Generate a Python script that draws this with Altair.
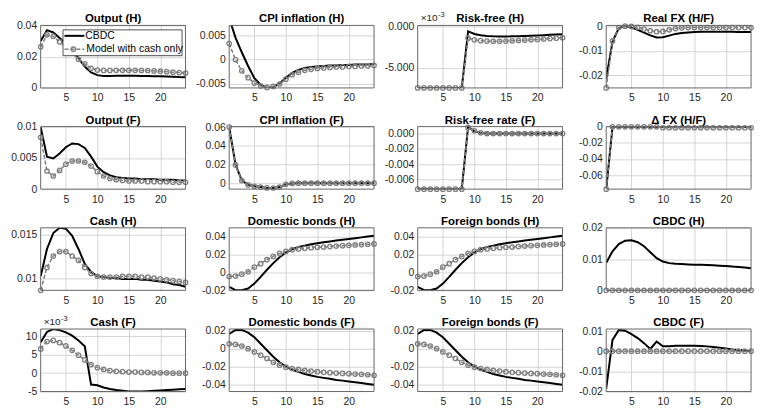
import altair as alt
import pandas as pd

FONT = "Liberation Sans"
W, H = 146, 63

steps = list(range(1, 25))
x_ticks = [5, 10, 15, 20]

panel_titles = ["Output (H)", "CPI inflation (H)", "Risk-free (H)", "Real FX (H/F)",
                "Output (F)", "CPI inflation (F)", "Risk-free rate (F)", "\u0394 FX (H/F)",
                "Cash (H)", "Domestic bonds (H)", "Foreign bonds (H)", "CBDC (H)",
                "Cash (F)", "Domestic bonds (F)", "Foreign bonds (F)", "CBDC (F)"]
legend_labels = ["CBDC", "Model with cash only"]

out_h_cbdc = [0.030, 0.037, 0.0355, 0.032, 0.028, 0.0245, 0.019, 0.0137, 0.0099, 0.0082, 0.0077, 0.0077,
              0.0078, 0.0078, 0.0078, 0.0078, 0.0077, 0.0076, 0.0075, 0.0074, 0.0073, 0.0072, 0.0070, 0.0069]
out_h_cash = [0.0263, 0.034, 0.033, 0.0295, 0.026, 0.0225, 0.0183, 0.0154, 0.0126, 0.0114, 0.0112, 0.0112,
              0.0113, 0.0113, 0.0113, 0.0113, 0.0112, 0.0111, 0.0109, 0.0107, 0.0104, 0.0101, 0.0098, 0.0095]

cpi_h_cbdc = [0.0085, 0.0045, 0.0015, -0.0013, -0.0038, -0.0052, -0.0058, -0.0056, -0.0049, -0.0037, -0.0027, -0.0021,
              -0.0017, -0.0015, -0.0014, -0.0013, -0.0012, -0.0012, -0.0011, -0.0011, -0.0010, -0.0010, -0.0010, -0.0009]
cpi_h_cash = [0.0033, 0.0000, -0.0023, -0.0037, -0.0048, -0.0054, -0.0057, -0.0055, -0.0050, -0.0040, -0.0031, -0.0026,
              -0.0022, -0.0020, -0.0018, -0.0017, -0.0016, -0.0015, -0.0015, -0.0014, -0.0014, -0.0013, -0.0013, -0.0012]

rf_h_cbdc = [-0.00742, -0.00742, -0.00742, -0.00742, -0.00742, -0.00742, -0.00742, -0.00742,
             -0.00063, -0.00095, -0.00110, -0.00118, -0.00122, -0.00124, -0.00124, -0.00123,
             -0.00121, -0.00118, -0.00115, -0.00112, -0.00109, -0.00105, -0.00101, -0.00097]
rf_h_cash = [-0.00742, -0.00742, -0.00742, -0.00742, -0.00742, -0.00742, -0.00742, -0.00742,
             -0.00145, -0.00165, -0.00175, -0.00180, -0.00182, -0.00182, -0.00180, -0.00177,
             -0.00173, -0.00169, -0.00165, -0.00160, -0.00155, -0.00150, -0.00145, -0.00140]

fx_h_cbdc = [-0.0215, -0.0062, -0.0006, 0.0002, -0.0004, -0.0013, -0.0025, -0.0036, -0.0045, -0.0044, -0.0037, -0.0030,
             -0.0026, -0.0024, -0.0022, -0.0021, -0.0021, -0.0021, -0.0021, -0.0021, -0.0021, -0.0022, -0.0022, -0.0022]
fx_h_cash = [-0.0253, -0.0059, -0.0004, 0.0002, 0.0001, -0.0003, -0.0010, -0.0017, -0.0021, -0.0020, -0.0013, -0.0008,
             -0.0005, -0.0004, -0.0004, -0.0004, -0.0004, -0.0004, -0.0004, -0.0004, -0.0004, -0.0004, -0.0004, -0.0004]

out_f_cbdc = [0.0099, 0.0052, 0.0049, 0.0057, 0.0067, 0.0073, 0.0072, 0.0066, 0.0052, 0.0036, 0.0027, 0.0022,
              0.0019, 0.0018, 0.0017, 0.0017, 0.0016, 0.0016, 0.0016, 0.0015, 0.0015, 0.0015, 0.0014, 0.0014]
out_f_cash = [0.0083, 0.0029, 0.0021, 0.0030, 0.0040, 0.0045, 0.0045, 0.0043, 0.0037, 0.0028, 0.0021, 0.0017,
              0.0015, 0.0014, 0.0013, 0.0013, 0.0013, 0.0012, 0.0012, 0.0012, 0.0012, 0.0011, 0.0011, 0.0011]

cpi_f_cbdc = [0.0600, 0.0200, 0.0030, -0.0017, -0.0032, -0.0040, -0.0050, -0.0050, -0.0040, -0.0012, -0.0003, -0.0001,
              0.0000, 0.0000, 0.0000, 0.0000, 0.0000, 0.0000, 0.0000, 0.0000, 0.0000, 0.0000, 0.0000, 0.0000]
cpi_f_cash = [0.0600, 0.0195, 0.0028, -0.0018, -0.0033, -0.0041, -0.0050, -0.0051, -0.0041, -0.0011, -0.0002, 0.0000,
              0.0000, 0.0000, 0.0000, 0.0000, 0.0000, 0.0000, 0.0000, 0.0000, 0.0000, 0.0000, 0.0000, 0.0000]

rf_f_cbdc = [-0.00724, -0.00724, -0.00724, -0.00724, -0.00724, -0.00724, -0.00724, -0.00724,
             0.0009, 0.0003, 0.0001, 0.0000, 0.0000, 0.0000, 0.0000, 0.0000,
             0.0000, 0.0000, 0.0000, 0.0000, 0.0000, 0.0000, 0.0000, 0.0000]
rf_f_cash = [-0.00724, -0.00724, -0.00724, -0.00724, -0.00724, -0.00724, -0.00724, -0.00724,
             0.0008, 0.00035, 0.0001, 0.0000, 0.0000, 0.0000, 0.0000, 0.0000,
             0.0000, 0.0000, 0.0000, 0.0000, 0.0000, 0.0000, 0.0000, 0.0000]

dfx_cbdc = [-0.0775, 0.0, 0.0, 0.0, 0.0, 0.0, 0.0, 0.0, 0.0, 0.0, 0.0, 0.0,
            0.0, 0.0, 0.0, 0.0, 0.0, 0.0, 0.0, 0.0, 0.0, 0.0, 0.0, 0.0]
dfx_cash = [-0.0775, 0.0, 0.0, 0.0, 0.0, 0.0, 0.0, 0.0, 0.0, -0.0012, -0.0012, -0.0012,
            -0.0012, -0.0012, -0.0012, -0.0012, -0.0012, -0.0012, -0.0012, -0.0012, -0.0012, -0.0012, -0.0012, -0.0012]

cash_h_cbdc = [0.0103, 0.0134, 0.0152, 0.0158, 0.0157, 0.0149, 0.0134, 0.0117, 0.0108, 0.0103, 0.0102, 0.0101,
               0.0101, 0.0100, 0.0100, 0.0100, 0.0099, 0.0099, 0.0098, 0.0097, 0.0096, 0.0094, 0.0093, 0.0091]
cash_h_cash = [0.0087, 0.0113, 0.0126, 0.0131, 0.0131, 0.0126, 0.0121, 0.0113, 0.0106, 0.0103, 0.0102, 0.0102,
               0.0102, 0.0103, 0.0103, 0.0103, 0.0102, 0.0102, 0.0101, 0.0100, 0.0099, 0.0098, 0.0097, 0.0096]

dom_h_cbdc = [-0.0160, -0.0198, -0.0198, -0.0180, -0.0125, -0.0050, 0.0030, 0.0105, 0.0170, 0.0225, 0.0260, 0.0285,
              0.0300, 0.0315, 0.0328, 0.0338, 0.0348, 0.0357, 0.0366, 0.0375, 0.0384, 0.0393, 0.0402, 0.0412]
dom_h_cash = [-0.0045, -0.0040, -0.0019, 0.0008, 0.0060, 0.0098, 0.0143, 0.0180, 0.0214, 0.0236, 0.0255, 0.0263,
              0.0270, 0.0278, 0.0282, 0.0285, 0.0290, 0.0296, 0.0300, 0.0304, 0.0308, 0.0312, 0.0316, 0.0320]

for_h_cbdc = [-0.0160, -0.0198, -0.0198, -0.0180, -0.0125, -0.0050, 0.0030, 0.0105, 0.0170, 0.0225, 0.0260, 0.0285,
              0.0300, 0.0315, 0.0328, 0.0338, 0.0348, 0.0357, 0.0366, 0.0375, 0.0384, 0.0393, 0.0402, 0.0412]
for_h_cash = [-0.0045, -0.0040, -0.0019, 0.0008, 0.0060, 0.0098, 0.0143, 0.0180, 0.0214, 0.0236, 0.0255, 0.0263,
              0.0270, 0.0278, 0.0282, 0.0285, 0.0290, 0.0296, 0.0300, 0.0304, 0.0308, 0.0312, 0.0316, 0.0320]

cbdc_h_cbdc = [0.0088, 0.0125, 0.0148, 0.0159, 0.0160, 0.0154, 0.0141, 0.0122, 0.0103, 0.0092, 0.0087, 0.0085,
               0.0084, 0.0083, 0.0082, 0.0082, 0.0081, 0.0080, 0.0079, 0.0078, 0.0076, 0.0075, 0.0073, 0.0071]
cbdc_h_cash = [0.0, 0.0, 0.0, 0.0, 0.0, 0.0, 0.0, 0.0, 0.0, 0.0, 0.0, 0.0,
               0.0, 0.0, 0.0, 0.0, 0.0, 0.0, 0.0, 0.0, 0.0, 0.0, 0.0, 0.0]

cash_f_cbdc = [0.0084, 0.0112, 0.0120, 0.0117, 0.0111, 0.0102, 0.0089, 0.0073, -0.0031, -0.0033, -0.0039, -0.0043,
               -0.0046, -0.0048, -0.0050, -0.0050, -0.0050, -0.0049, -0.0048, -0.0047, -0.0046, -0.0045, -0.0044, -0.0043]
cash_f_cash = [0.0066, 0.0086, 0.0089, 0.0083, 0.0074, 0.0062, 0.0049, 0.0036, 0.0023, 0.0015, 0.0010, 0.0007,
               0.0005, 0.0004, 0.0003, 0.0003, 0.0002, 0.0002, 0.0001, 0.0001, 0.0001, 0.0000, 0.0000, 0.0000]

dom_f_cbdc = [0.0164, 0.0210, 0.0210, 0.0180, 0.0127, 0.0055, -0.0018, -0.0090, -0.0153, -0.0200, -0.0236, -0.0260,
              -0.0284, -0.0300, -0.0316, -0.0327, -0.0338, -0.0350, -0.0358, -0.0367, -0.0376, -0.0385, -0.0395, -0.0405]
dom_f_cash = [0.0055, 0.0047, 0.0030, 0.0000, -0.0036, -0.0073, -0.0110, -0.0153, -0.0185, -0.0207, -0.0222, -0.0233,
              -0.0244, -0.0250, -0.0258, -0.0265, -0.0269, -0.0273, -0.0277, -0.0280, -0.0284, -0.0287, -0.0292, -0.0298]

for_f_cbdc = [0.0164, 0.0210, 0.0210, 0.0180, 0.0127, 0.0055, -0.0018, -0.0090, -0.0153, -0.0200, -0.0236, -0.0260,
              -0.0284, -0.0300, -0.0316, -0.0327, -0.0338, -0.0350, -0.0358, -0.0367, -0.0376, -0.0385, -0.0395, -0.0405]
for_f_cash = [0.0055, 0.0047, 0.0030, 0.0000, -0.0036, -0.0073, -0.0110, -0.0153, -0.0185, -0.0207, -0.0222, -0.0233,
              -0.0244, -0.0250, -0.0258, -0.0265, -0.0269, -0.0273, -0.0277, -0.0280, -0.0284, -0.0287, -0.0292, -0.0298]

cbdc_f_cbdc = [-0.0185, 0.0056, 0.0105, 0.0102, 0.0085, 0.0065, 0.0040, 0.0011, 0.0048, 0.0024, 0.0025, 0.0027,
               0.0027, 0.0027, 0.0027, 0.0026, 0.0024, 0.0021, 0.0017, 0.0013, 0.0009, 0.0006, 0.0003, 0.0000]
cbdc_f_cash = [0.0, 0.0, 0.0, 0.0, 0.0, 0.0, 0.0, 0.0, 0.0, 0.0, 0.0, 0.0,
               0.0, 0.0, 0.0, 0.0, 0.0, 0.0, 0.0, 0.0, 0.0, 0.0, 0.0, 0.0]

cbdc_series = [out_h_cbdc, cpi_h_cbdc, rf_h_cbdc, fx_h_cbdc, out_f_cbdc, cpi_f_cbdc, rf_f_cbdc, dfx_cbdc,
               cash_h_cbdc, dom_h_cbdc, for_h_cbdc, cbdc_h_cbdc, cash_f_cbdc, dom_f_cbdc, for_f_cbdc, cbdc_f_cbdc]
cash_series = [out_h_cash, cpi_h_cash, rf_h_cash, fx_h_cash, out_f_cash, cpi_f_cash, rf_f_cash, dfx_cash,
               cash_h_cash, dom_h_cash, for_h_cash, cbdc_h_cash, cash_f_cash, dom_f_cash, for_f_cash, cbdc_f_cash]

y_domains = [[0, 0.04], [-0.0058, 0.007], [-0.00742, 0.00008], [-0.0253, 0.0005],
             [0, 0.01], [-0.0063, 0.0605], [-0.00724, 0.0009], [-0.0775, 0.0002],
             [0.0087, 0.0158], [-0.02, 0.05], [-0.02, 0.05], [0, 0.02],
             [-0.005, 0.012], [-0.048, 0.022], [-0.048, 0.022], [-0.02, 0.011]]
y_ticks = [[0, 0.02, 0.04], [-0.005, 0, 0.005], [-0.005, 0], [-0.02, -0.01, 0],
           [0, 0.005, 0.01], [0, 0.02, 0.04, 0.06], [-0.006, -0.004, -0.002, 0], [-0.06, -0.04, -0.02, 0],
           [0.01, 0.015], [-0.02, 0, 0.02, 0.04], [-0.02, 0, 0.02, 0.04], [0, 0.01, 0.02],
           [-0.005, 0, 0.005, 0.01], [-0.04, -0.02, 0, 0.02], [-0.04, -0.02, 0, 0.02], [-0.02, -0.01, 0, 0.01]]
label_formats = [(1, "~g"), (1, "~g"), (1000, ".3f"), (1, "~g"),
                 (1, "~g"), (1, "~g"), (1, ".3f"), (1, "~g"),
                 (1, "~g"), (1, "~g"), (1, "~g"), (1, "~g"),
                 (1000, "~g"), (1, "~g"), (1, "~g"), (1, "~g")]
exponent_panels = [2, 12]

GRAY = "#808080"
one = pd.DataFrame({"k": [0]})


def make_panel(i):
    df = pd.DataFrame({"t": steps, "cbdc": cbdc_series[i], "cash": cash_series[i]})
    mult, fmt = label_formats[i]
    lbl = "replace(format(datum.value*%s, '%s'), '\u2212', '-')" % (mult, fmt)
    xenc = alt.X("t:Q", scale=alt.Scale(domain=[1, 24], nice=False, zero=False),
                 axis=alt.Axis(values=x_ticks, title=None, labelPadding=5, format="d"))

    def yenc(field):
        return alt.Y(field + ":Q", scale=alt.Scale(domain=y_domains[i], nice=False, zero=False),
                     axis=alt.Axis(values=y_ticks[i], title=None, labelExpr=lbl, labelPadding=4))

    base = alt.Chart(df)
    black = base.mark_line(color="#000000", strokeWidth=2, clip=True).encode(x=xenc, y=yenc("cbdc"))
    gline = base.mark_line(color=GRAY, strokeWidth=1.5, strokeDash=[4, 2], clip=True).encode(
        x=xenc, y=yenc("cash"))
    gpts = base.mark_point(color=GRAY, filled=False, size=20, strokeWidth=1.3, opacity=1).encode(
        x=xenc, y=yenc("cash"))
    frame = alt.Chart(one).mark_rect(fillOpacity=0, stroke="#666666", strokeWidth=1).encode(
        x=alt.value(0), x2=alt.value(W), y=alt.value(0), y2=alt.value(H))
    title = alt.Chart(one).mark_text(text=panel_titles[i], font=FONT, fontSize=11.5, fontWeight="bold",
                                     color="#000000", align="center", baseline="alphabetic").encode(
        x=alt.value(W / 2), y=alt.value(-3))
    layers = [black, gline, gpts, frame, title]
    if i in exponent_panels:
        layers.append(alt.Chart(one).mark_text(text="\u00d710", font=FONT, fontSize=10, color="#262626",
                                               align="left", baseline="middle").encode(
            x=alt.value(3), y=alt.value(-7.5)))
        layers.append(alt.Chart(one).mark_text(text="-3", font=FONT, fontSize=7.5, color="#262626",
                                               align="left", baseline="middle").encode(
            x=alt.value(20.5), y=alt.value(-10.5)))
    if i == 0:
        layers.append(alt.Chart(one).mark_rect(fill="white", stroke="#262626", strokeWidth=0.8).encode(
            x=alt.value(22.5), x2=alt.value(142.5), y=alt.value(4.5), y2=alt.value(30.5)))
        layers.append(alt.Chart(one).mark_rule(color="#000000", strokeWidth=2).encode(
            x=alt.value(24), x2=alt.value(44), y=alt.value(10.5)))
        layers.append(alt.Chart(one).mark_rule(color=GRAY, strokeWidth=1.5, strokeDash=[4, 2]).encode(
            x=alt.value(24), x2=alt.value(44), y=alt.value(24)))
        layers.append(alt.Chart(one).mark_point(color=GRAY, filled=False, size=20, strokeWidth=1.3,
                                                opacity=1).encode(x=alt.value(33), y=alt.value(24)))
        layers.append(alt.Chart(one).mark_text(text=legend_labels[0], font=FONT, fontSize=10.5,
                                               color="#000000", align="left", baseline="middle").encode(
            x=alt.value(45), y=alt.value(10.5)))
        layers.append(alt.Chart(one).mark_text(text=legend_labels[1], font=FONT, fontSize=10.5,
                                               color="#000000", align="left", baseline="middle").encode(
            x=alt.value(46), y=alt.value(24)))
    return alt.layer(*layers).properties(width=W, height=H)


panels = [make_panel(i) for i in range(16)]

chart = alt.concat(*panels, columns=4, spacing={"row": 39, "column": 44}, bounds="flush").properties(
    padding={"left": 10, "top": 9, "right": 4, "bottom": 2}
).configure_view(stroke=None).configure_axis(
    labelFont=FONT, labelFontSize=10.5, labelColor="#262626", grid=True, gridColor="#d4d4d4",
    gridWidth=1, domain=False, ticks=False, tickSize=0
)

chart.save("out.html", embed_options={"renderer": "svg", "actions": False})
